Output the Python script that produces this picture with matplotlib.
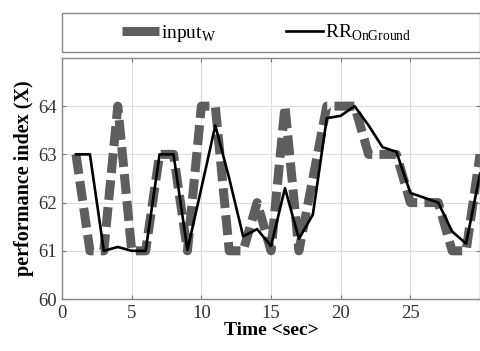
import matplotlib
matplotlib.use("Agg")
import matplotlib.pyplot as plt
from matplotlib.lines import Line2D
from matplotlib.patches import Rectangle

plt.rcParams["font.family"] = ["Liberation Serif", "DejaVu Serif"]
plt.rcParams["mathtext.fontset"] = "custom"
plt.rcParams["mathtext.rm"] = "Liberation Serif"

# values (one sample per second)
time_s = list(range(1, 31))
input_w = [63, 61, 61, 64, 61, 61, 63, 63, 61, 64,
           64, 61, 61, 62, 61, 64, 61, 62.5, 64, 64,
           64, 63, 63, 63, 62, 62, 62, 61, 61, 63]
rr_onground = [63, 63, 61.0, 61.08, 61.0, 61.0, 63, 63, 61.02, 62.3,
               63.6, 62.5, 61.3, 61.45, 61.1, 62.3, 61.25, 61.75, 63.75, 63.8,
               64.0, 63.6, 63.15, 63.05, 62.2, 62.1, 62.0, 61.4, 61.15, 62.6]

x_ticks = [0, 5, 10, 15, 20, 25]
y_ticks = [60, 61, 62, 63, 64]

fig = plt.figure(figsize=(4.81, 3.51), dpi=100)
ax = fig.add_axes([0.129, 0.148, 0.869, 0.687])

gray = "#5e5e5e"
ax.plot(time_s, input_w, color=gray, lw=6.5, dashes=(2.2, 0.8),
        solid_capstyle="butt", dash_capstyle="butt")
ax.plot(time_s, rr_onground, color="black", lw=1.9)

ax.set_xlim(0, 30)
ax.set_ylim(60, 65)
ax.set_xticks(x_ticks)
ax.set_yticks(y_ticks)
ax.tick_params(direction="in", top=True, right=True, labelsize=13.5,
               color="#777777", length=3, pad=4, labelcolor="#333333")
ax.grid(True, color="#dddddd", lw=0.8)
for sp in ax.spines.values():
    sp.set_color("#888888")
    sp.set_linewidth(1.0)

ax.set_xlabel("Time <sec>", fontsize=14, fontweight="bold", labelpad=0)
ax.set_ylabel("performance index (X)", fontsize=14.5, fontweight="bold", labelpad=3)

# legend box above the axes, solid swatches like the original
fig.patches.append(Rectangle((0.129, 0.852), 0.869, 0.111, transform=fig.transFigure,
                             fill=False, edgecolor="#888888", lw=1.0))
h1 = Line2D([], [], color=gray, lw=6.5, solid_capstyle="butt")
h2 = Line2D([], [], color="black", lw=1.9)
fig.legend(handles=[h1, h2],
           labels=[r"input$_\mathregular{W}$", r"RR$_\mathregular{OnGround}$"],
           loc="center", bbox_to_anchor=(0.555, 0.905),
           ncol=2, frameon=False, fontsize=14, handlelength=1.9,
           columnspacing=3.6, handletextpad=0.1)

fig.savefig("out.png", dpi=100)
